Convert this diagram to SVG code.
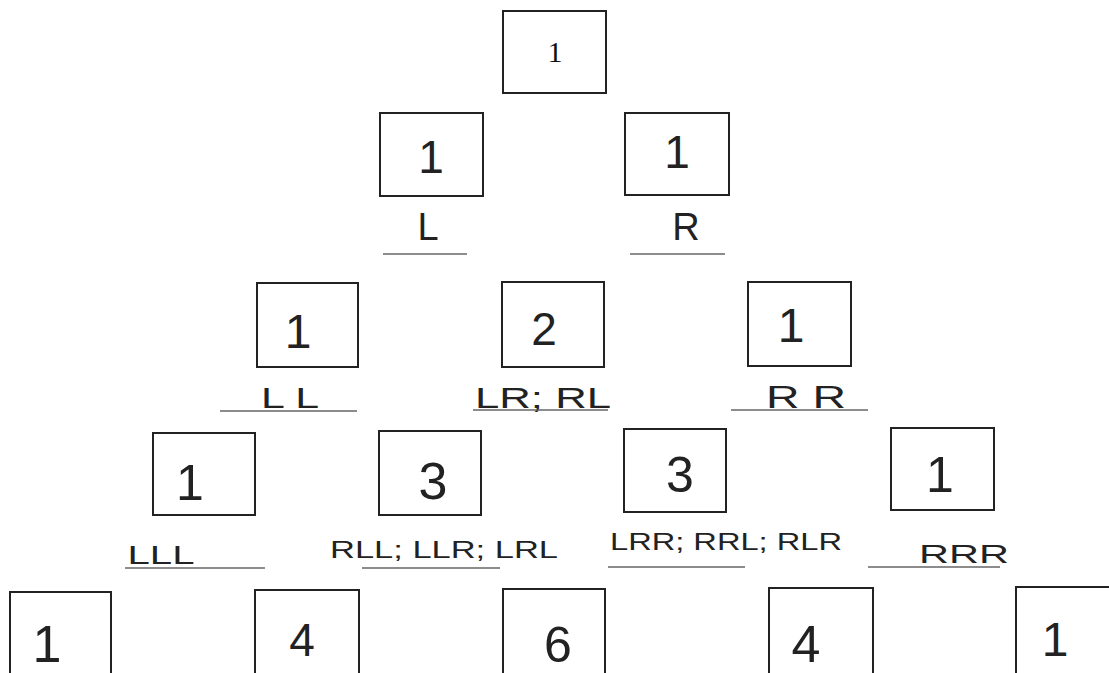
<svg xmlns="http://www.w3.org/2000/svg" width="1109" height="673" viewBox="0 0 1109 673">
<style>
.box{fill:#fff;stroke:#222;stroke-width:2}
.num{font-family:"Liberation Sans",Arial,sans-serif;font-weight:normal;fill:#222;text-anchor:middle}
.top{font-family:"Liberation Serif","Times New Roman",serif;font-size:30px;fill:#111;text-anchor:middle}
.lab{font-family:"Liberation Sans",Arial,sans-serif;fill:#222;text-anchor:middle}
.ul{stroke:#666;stroke-width:1.6}
</style>
<rect width="1109" height="673" fill="#fff"/>
<g id="n0"><rect class="box" x="503" y="11" width="103" height="82"/><text class="top" x="555" y="62">1</text></g>
<g id="n1"><rect class="box" x="380" y="113" width="103" height="83"/><text class="num" x="431" y="173" font-size="46">1</text><text class="lab" x="428" y="240" font-size="38">L</text><line class="ul" x1="383" y1="254" x2="467" y2="254"/></g>
<g id="n2"><rect class="box" x="625" y="113" width="104" height="82"/><text class="num" x="677" y="168" font-size="46">1</text><text class="lab" x="686" y="240" font-size="38">R</text><line class="ul" x1="630" y1="254" x2="725" y2="254"/></g>
<g id="n3"><rect class="box" x="257" y="283" width="101" height="84"/><text class="num" x="298" y="348" font-size="48">1</text><text class="lab" x="290" y="408" font-size="30" textLength="58" lengthAdjust="spacingAndGlyphs">L L</text><line class="ul" x1="220" y1="411" x2="357" y2="411"/></g>
<g id="n4"><rect class="box" x="502" y="282" width="102" height="85"/><text class="num" x="544" y="345" font-size="46">2</text><text class="lab" x="543" y="408" font-size="30" textLength="136" lengthAdjust="spacingAndGlyphs">LR; RL</text><line class="ul" x1="473" y1="410" x2="608" y2="410"/></g>
<g id="n5"><rect class="box" x="748" y="282" width="103" height="84"/><text class="num" x="791" y="342" font-size="48">1</text><text class="lab" x="806" y="408" font-size="32" textLength="80" lengthAdjust="spacingAndGlyphs">R R</text><line class="ul" x1="731" y1="410" x2="868" y2="410"/></g>
<g id="n6"><rect class="box" x="153" y="433" width="102" height="82"/><text class="num" x="190" y="500" font-size="50">1</text><text class="lab" x="161" y="564" font-size="26" textLength="67" lengthAdjust="spacingAndGlyphs">LLL</text><line class="ul" x1="125" y1="568" x2="265" y2="568"/></g>
<g id="n7"><rect class="box" x="379" y="431" width="102" height="84"/><text class="num" x="433" y="499" font-size="52">3</text><text class="lab" x="444" y="558" font-size="24" textLength="228" lengthAdjust="spacingAndGlyphs">RLL; LLR; LRL</text><line class="ul" x1="362" y1="568" x2="500" y2="568"/></g>
<g id="n8"><rect class="box" x="624" y="429" width="102" height="83"/><text class="num" x="680" y="492" font-size="50">3</text><text class="lab" x="726" y="550" font-size="24" textLength="232" lengthAdjust="spacingAndGlyphs">LRR; RRL; RLR</text><line class="ul" x1="608" y1="567" x2="745" y2="567"/></g>
<g id="n9"><rect class="box" x="891" y="428" width="103" height="82"/><text class="num" x="940" y="492" font-size="50">1</text><text class="lab" x="964" y="563" font-size="26" textLength="90" lengthAdjust="spacingAndGlyphs">RRR</text><line class="ul" x1="868" y1="567" x2="1000" y2="567"/></g>
<g id="n10"><rect class="box" x="10" y="592" width="101" height="100"/><text class="num" x="47" y="662" font-size="52">1</text></g>
<g id="n11"><rect class="box" x="255" y="590" width="104" height="100"/><text class="num" x="302" y="656" font-size="46">4</text></g>
<g id="n12"><rect class="box" x="503" y="589" width="102" height="100"/><text class="num" x="558" y="662" font-size="50">6</text></g>
<g id="n13"><rect class="box" x="769" y="588" width="104" height="100"/><text class="num" x="806" y="662" font-size="52">4</text></g>
<g id="n14"><rect class="box" x="1016" y="587" width="100" height="100"/><text class="num" x="1055" y="656" font-size="48">1</text></g>
</svg>
